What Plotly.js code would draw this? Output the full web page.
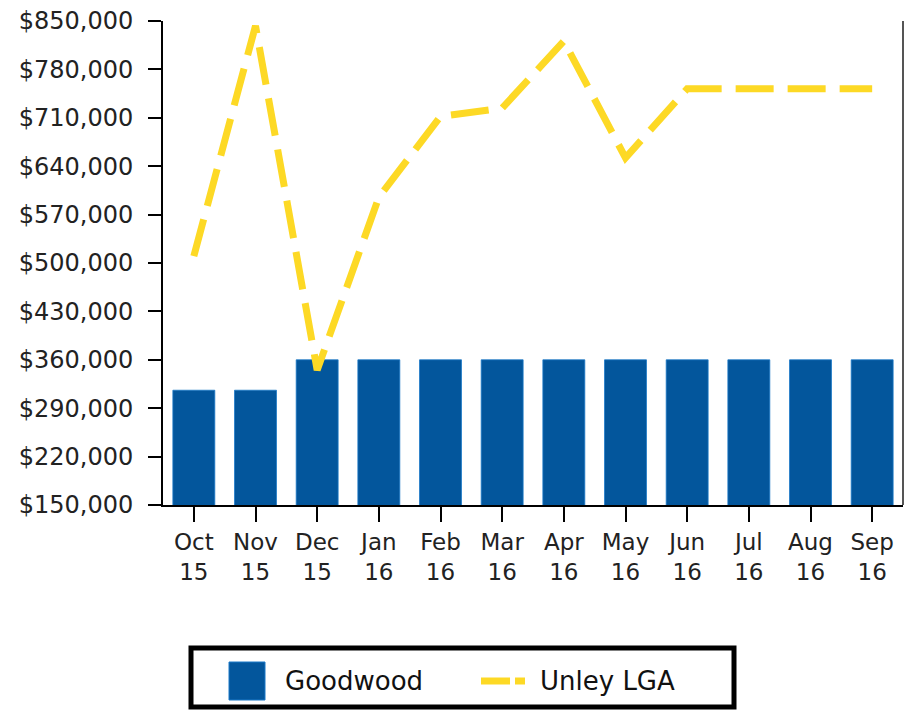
<!DOCTYPE html>
<html>
<head>
<meta charset="utf-8">
<script src="https://cdn.plot.ly/plotly-3.0.1.min.js"></script>
<style>html,body{margin:0;padding:0;background:#fff;}#chart{width:905px;height:710px;}</style>
</head>
<body>
<div id="chart"></div>
<script>
const months = ["Oct<br>15","Nov<br>15","Dec<br>15","Jan<br>16","Feb<br>16","Mar<br>16","Apr<br>16","May<br>16","Jun<br>16","Jul<br>16","Aug<br>16","Sep<br>16"];
const goodwood = [316000,316000,360000,360000,360000,360000,360000,360000,360000,360000,360000,360000];
const unleyLGA = [510000,843000,345000,595000,712000,724000,821000,652000,752000,752000,752000,752000];
const seriesNames = ["Goodwood","Unley LGA"];
const yTicks = [150000,220000,290000,360000,430000,500000,570000,640000,710000,780000,850000];

const BLUE = "#03569c";
const GOLD = "#fdd925";
const FONT = "DejaVu Sans, Verdana, sans-serif";

const W = 905, H = 710, L = 163, R = 2, T = 21, B = 205;
const pw = W - L - R, ph = H - T - B;
const px = x => (x - L) / pw;
const py = y => (H - B - y) / ph;

const traces = [
  {type:"bar", name:seriesNames[0], x:months, y:goodwood,
   marker:{color:BLUE, line:{color:"#1b78c8", width:0.8}}, showlegend:false, hoverinfo:"x+y"},
  {type:"scatter", mode:"lines", name:seriesNames[1], x:months, y:unleyLGA,
   line:{color:GOLD, width:7, dash:"38px,14px"}, showlegend:false, hoverinfo:"x+y"}
];

const shapes = [
  {type:"line", xref:"paper", yref:"paper", x0:1, x1:1, y0:0, y1:1, line:{color:"#555", width:2}},
  {type:"rect", xref:"paper", yref:"paper", x0:px(191), x1:px(734), y0:py(648), y1:py(707),
   line:{color:"#000", width:5}, fillcolor:"rgba(0,0,0,0)"},
  {type:"rect", xref:"paper", yref:"paper", x0:px(229), x1:px(265), y0:py(662), y1:py(700),
   line:{color:"#1b78c8", width:1}, fillcolor:BLUE},
  {type:"line", xref:"paper", yref:"paper", x0:px(481), x1:px(510), y0:py(681), y1:py(681),
   line:{color:GOLD, width:7}},
  {type:"line", xref:"paper", yref:"paper", x0:px(515), x1:px(525), y0:py(681), y1:py(681),
   line:{color:GOLD, width:7}}
];

const annotations = [
  {xref:"paper", yref:"paper", x:px(283), y:py(681), xanchor:"left", yanchor:"middle",
   text:seriesNames[0], showarrow:false, font:{family:FONT, size:26, color:"#111"}},
  {xref:"paper", yref:"paper", x:px(538), y:py(681), xanchor:"left", yanchor:"middle",
   text:seriesNames[1], showarrow:false, font:{family:FONT, size:26, color:"#111"}}
];

const layout = {
  width:W, height:H, autosize:false,
  margin:{l:L, r:R, t:T, b:B, pad:0},
  paper_bgcolor:"#fff", plot_bgcolor:"#fff",
  font:{family:FONT, color:"#222"},
  bargap:0.32,
  showlegend:false,
  xaxis:{type:"category", range:[-0.5,11.5], showgrid:false, zeroline:false,
    showline:true, linecolor:"#000", linewidth:2,
    ticks:"outside", ticklen:15, tickwidth:2, tickcolor:"#000",
    tickfont:{family:FONT, size:23, color:"#222"}, fixedrange:true},
  yaxis:{range:[150000,850000], tickmode:"array", tickvals:yTicks,
    ticktext:yTicks.map(v => "$" + v.toLocaleString("en-US")),
    showgrid:false, zeroline:false,
    showline:true, linecolor:"#000", linewidth:2,
    ticks:"outside", ticklen:13, tickwidth:2, tickcolor:"#000",
    ticklabelstandoff:10,
    tickfont:{family:FONT, size:24, color:"#222"}, fixedrange:true},
  shapes:shapes,
  annotations:annotations
};

Plotly.newPlot("chart", traces, layout, {displayModeBar:false, staticPlot:true});
</script>
</body>
</html>
